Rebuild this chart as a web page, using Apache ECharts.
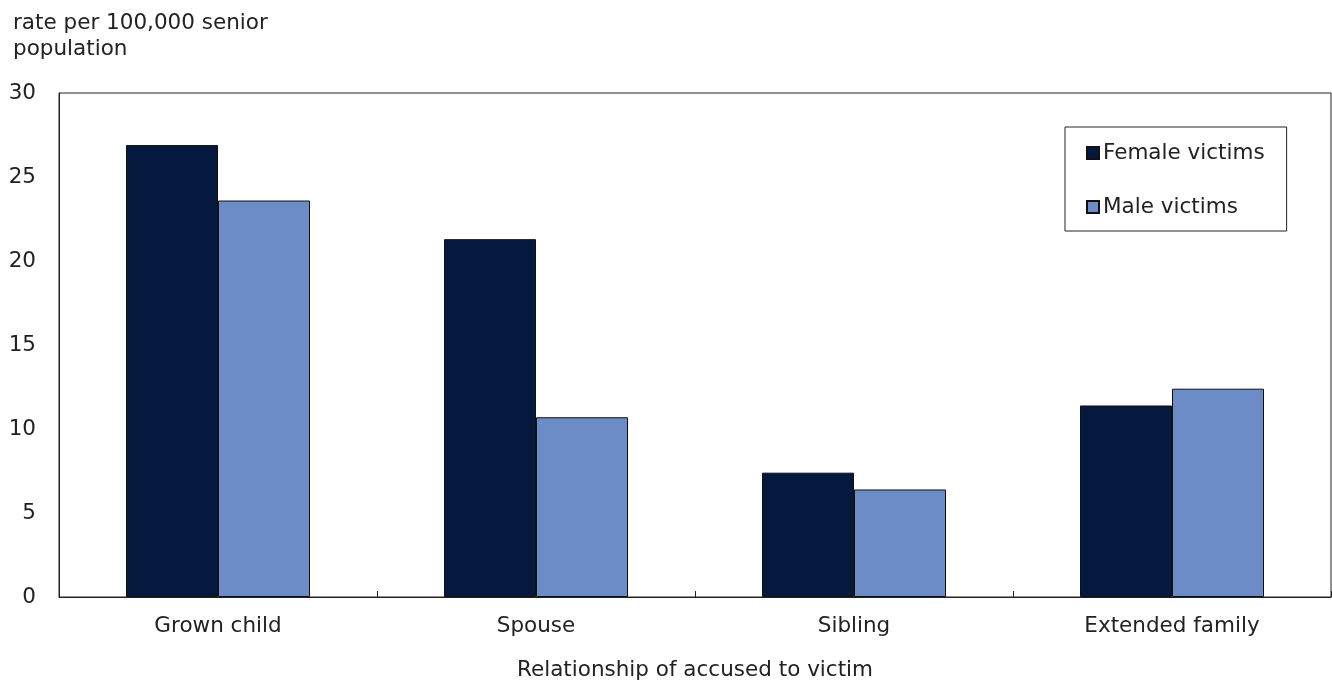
<!DOCTYPE html>
<html>
<head>
<meta charset="utf-8">
<script src="https://cdn.jsdelivr.net/npm/echarts@6/dist/echarts.min.js"></script>
<style>
html,body{margin:0;padding:0;background:#fff;}
#chart{width:1332px;height:681px;}
</style>
</head>
<body>
<div id="chart"></div>
<script>
const categories = ['Grown child', 'Spouse', 'Sibling', 'Extended family'];
const femaleVictims = [26.9, 21.3, 7.4, 11.4];
const maleVictims = [23.6, 10.7, 6.4, 12.4];
const yTicks = [0, 5, 10, 15, 20, 25, 30];

const FONT = 'DejaVu Sans';
const FS = 21.5;
const chart = echarts.init(document.getElementById('chart'));
chart.setOption({
  animation: false,
  textStyle: { fontFamily: FONT },
  title: {
    text: 'rate per 100,000 senior\npopulation',
    left: 8, top: 5,
    textStyle: { fontFamily: FONT, fontSize: FS, fontWeight: 'normal', color: '#222', lineHeight: 26 }
  },
  legend: {
    orient: 'vertical',
    left: 1065, top: 127,
    padding: [15, 22, 13, 21],
    itemGap: 32,
    itemWidth: 12, itemHeight: 12,
    borderColor: '#222', borderWidth: 1,
    icon: 'rect',
    textStyle: { fontFamily: FONT, fontSize: FS, color: '#222', padding: [0, 0, 0, -1] },
    data: ['Female victims', 'Male victims']
  },
  grid: {
    left: 59, right: 1, top: 93, bottom: 84,
    outerBoundsMode: 'none', containLabel: false,
    show: true, borderColor: '#222', borderWidth: 1
  },
  xAxis: {
    type: 'category',
    data: categories,
    name: 'Relationship of accused to victim',
    nameLocation: 'middle',
    nameGap: 62,
    nameTextStyle: { fontFamily: FONT, fontSize: FS, color: '#222' },
    axisLine: { lineStyle: { color: '#222', width: 1 } },
    axisTick: { show: true, inside: true, length: 6, lineStyle: { color: '#222' } },
    axisLabel: { fontFamily: FONT, fontSize: FS, color: '#222', margin: 18 }
  },
  yAxis: {
    type: 'value',
    min: yTicks[0], max: yTicks[yTicks.length - 1], interval: 5,
    axisLine: { show: true, lineStyle: { color: '#222', width: 1 } },
    axisTick: { show: false },
    splitLine: { show: false },
    axisLabel: { fontFamily: FONT, fontSize: FS, color: '#222', margin: 23 }
  },
  series: [
    {
      name: 'Female victims', type: 'bar', data: femaleVictims,
      barWidth: 92, barGap: '0%',
      itemStyle: { color: '#05193f', borderColor: '#111', borderWidth: 1 }
    },
    {
      name: 'Male victims', type: 'bar', data: maleVictims,
      barWidth: 92, barGap: '0%',
      itemStyle: { color: '#6c8cc7', borderColor: '#111', borderWidth: 1 }
    }
  ]
});
</script>
</body>
</html>
